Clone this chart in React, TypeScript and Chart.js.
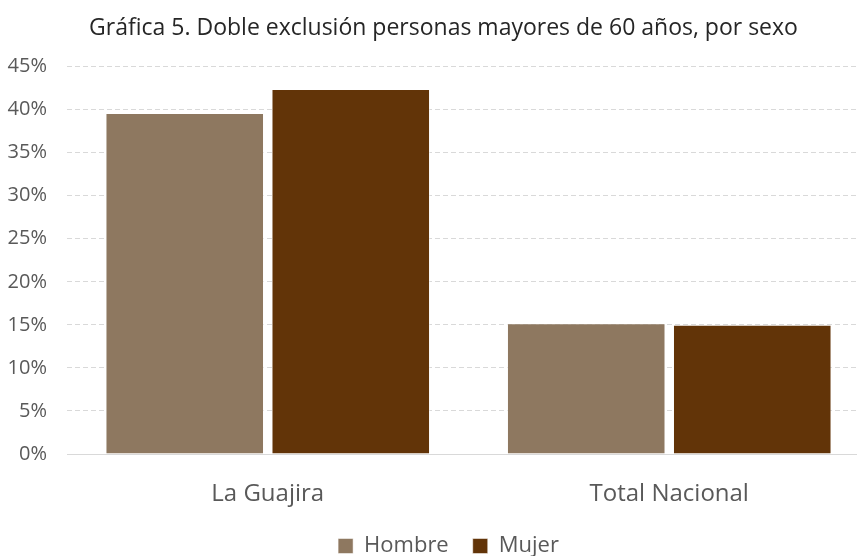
import React, { useEffect, useRef } from "react";
import { Chart, registerables } from "chart.js";

Chart.register(...registerables);

const categories = ["La Guajira", "Total Nacional"];
const hombre = [39.6, 15.2];
const mujer = [42.4, 15.0];
const yTicks = [0, 5, 10, 15, 20, 25, 30, 35, 40, 45];
const titleText = "Gráfica 5. Doble exclusión personas mayores de 60 años, por sexo";

const FONT = "'Open Sans', sans-serif";

const extendPlot = {
  id: "extendPlot",
  afterLayout(chart: any) {
    const extraRight = 13;
    const x = chart.scales.x;
    x.right += extraRight;
    x.width = x.right - x.left;
    x.bottom = chart.height;
    x.height = x.bottom - x.top;
    x.configure();
    x._labelItems = null;
    x._gridLineItems = null;
    chart.chartArea.right += extraRight;
    chart.chartArea.width = chart.chartArea.right - chart.chartArea.left;
    const y = chart.scales.y;
    y._gridLineItems = null;
    const lg = chart.legend;
    if (lg) {
      lg.top += 11;
      lg.bottom += 11;
      lg.left += 20;
      lg.right += 20;
    }
    const tb = chart.titleBlock;
    if (tb) {
      tb.left += 30;
    }
  },
};

export default function App() {
  const ref = useRef<HTMLCanvasElement | null>(null);
  useEffect(() => {
    document.body.style.margin = "0";
    const ctx = ref.current!;
    const chart = new Chart(ctx, {
      type: "bar",
      data: {
        labels: categories,
        datasets: [
          {
            label: "Hombre",
            data: hombre,
            backgroundColor: "#8E7860",
            borderColor: "rgba(255,255,255,0.5)",
            borderWidth: 1,
            categoryPercentage: 0.827,
            barPercentage: 0.955,
          },
          {
            label: "Mujer",
            data: mujer,
            backgroundColor: "#623408",
            borderColor: "rgba(255,255,255,0.5)",
            borderWidth: 1,
            categoryPercentage: 0.827,
            barPercentage: 0.955,
          },
        ],
      },
      plugins: [extendPlot],
      options: {
        responsive: false,
        animation: false,
        maintainAspectRatio: false,
        layout: { padding: { left: 0, right: 0, top: 0, bottom: 0 } },
        plugins: {
          title: {
            display: true,
            text: titleText,
            color: "#262626",
            font: { family: FONT, size: 23, weight: "normal" },
            padding: { top: 15, bottom: 24 },
          },
          legend: {
            position: "bottom",
            labels: {
              color: "#595959",
              font: { family: FONT, size: 22 },
              boxWidth: 15,
              boxHeight: 15,
              padding: 24,
            },
          },
          tooltip: { enabled: false },
        },
        scales: {
          x: {
            afterFit: (s: any) => {
              s.height = 46;
            },
            grid: { display: false },
            border: { display: true, color: "#D9D9D9", width: 1 },
            ticks: { color: "#595959", font: { family: FONT, size: 24 }, padding: 18 },
          },
          y: {
            min: 0,
            max: 45,
            afterFit: (s: any) => {
              s.width = 67;
            },
            afterBuildTicks: (s: any) => {
              s.ticks = yTicks.map((v) => ({ value: v }));
            },
            grid: {
              color: "#D9D9D9",
              drawTicks: false,
              lineWidth: 1,
            },
            border: { display: false, dash: [5, 3] },
            ticks: {
              color: "#595959",
              font: { family: FONT, size: 20 },
              padding: 20,
              callback: (v: any) => v + "%",
            },
          },
        },
      },
    });
    return () => chart.destroy();
  }, []);
  return <canvas ref={ref} width={857} height={556} style={{ display: "block" }} />;
}
